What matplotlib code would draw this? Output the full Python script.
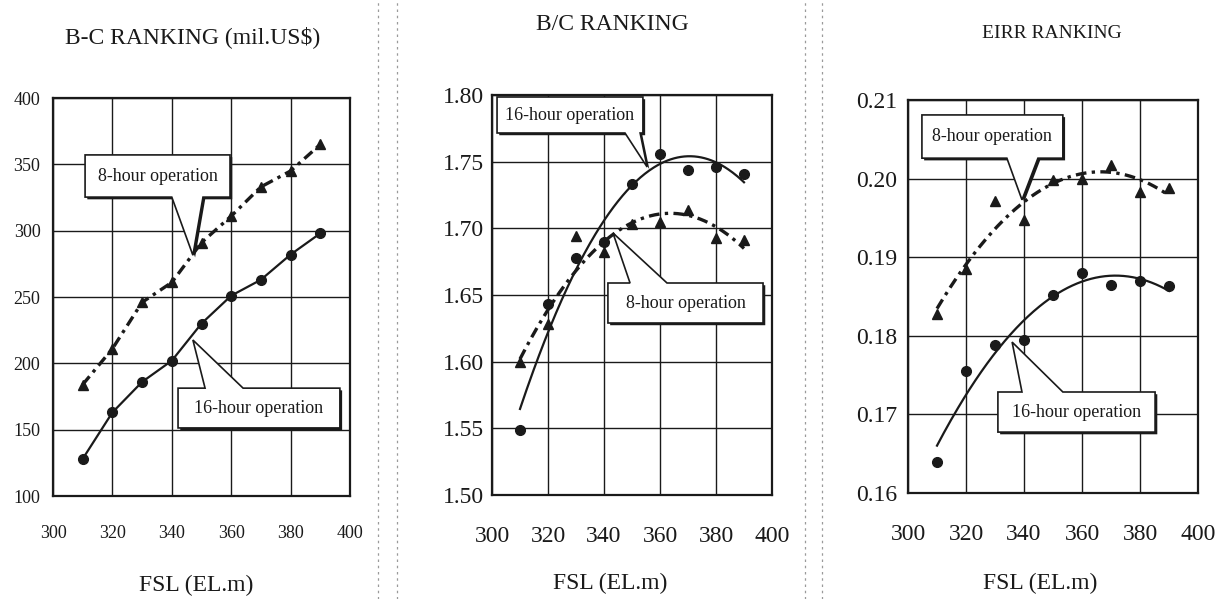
import numpy as np
import matplotlib
matplotlib.use("Agg")
import matplotlib.pyplot as plt
from matplotlib.patches import Polygon
from matplotlib.lines import Line2D
import matplotlib.patheffects as pe

plt.rcParams["font.family"] = ["Liberation Serif", "DejaVu Serif"]

# Full supply level (EL.m)
fsl = [310, 320, 330, 340, 350, 360, 370, 380, 390]

# B-C (mil.US$)
bc_16h = [128, 163, 186, 202, 230, 251, 263, 282, 298]
bc_8h = [184, 211, 246, 261, 291, 311, 333, 345, 365]

# B/C ratio
bcr_16h = [1.549, 1.643, 1.678, 1.690, 1.733, 1.756, 1.744, 1.746, 1.741]
bcr_8h = [1.600, 1.628, 1.694, 1.682, 1.703, 1.705, 1.714, 1.693, 1.691]

# EIRR
eirr_16h = [0.1640, 0.1755, 0.1788, 0.1795, 0.1852, 0.1880, 0.1865, 0.1870, 0.1863]
eirr_8h = [0.1828, 0.1885, 0.1971, 0.1947, 0.1998, 0.2000, 0.2017, 0.1983, 0.1988]

x_ticks = [300, 320, 340, 360, 380, 400]
bc_ticks = [100, 150, 200, 250, 300, 350, 400]
bcr_ticks = [1.50, 1.55, 1.60, 1.65, 1.70, 1.75, 1.80]
eirr_ticks = [0.16, 0.17, 0.18, 0.19, 0.20, 0.21]

titles = ["B-C RANKING (mil.US$)", "B/C RANKING", "EIRR RANKING"]
xlabel = "FSL (EL.m)"
lbl_8h = "8-hour operation"
lbl_16h = "16-hour operation"

W, H = 1226, 599
INK = "#1a1a1a"
DASH = (0, (3.2, 1.6, 1.0, 1.6))

fig = plt.figure(figsize=(W / 100, H / 100), dpi=100)
fig.patch.set_facecolor("white")


def px_axes(l, r, t, b):
    return fig.add_axes([l / W, 1 - b / H, (r - l) / W, (b - t) / H])


def style(ax, yticks, fmt, ysize, xsize, xpad, ypad):
    ax.set_xlim(300, 400)
    ax.set_ylim(yticks[0], yticks[-1])
    ax.set_xticks(x_ticks)
    ax.set_yticks(yticks)
    ax.set_yticklabels([fmt.format(v) for v in yticks])
    ax.grid(True, color=INK, lw=1.0)
    ax.set_axisbelow(True)
    for s in ax.spines.values():
        s.set_linewidth(1.6)
        s.set_color(INK)
    ax.tick_params(axis="both", length=0, colors=INK)
    ax.tick_params(axis="x", labelsize=xsize, pad=xpad)
    ax.tick_params(axis="y", labelsize=ysize, pad=ypad)


def callout(ax, text, box, base, tip, fs=13):
    """Speech-bubble label: box in axes fraction (x0, y0, x1, y1),
    pointer base on the box edge facing the tip, tip in data coords."""
    x0, y0, x1, y1 = box
    tx, ty = ax.transAxes.inverted().transform(ax.transData.transform(tip))
    b0, b1 = base
    if ty < y0:
        verts = [(x0, y1), (x1, y1), (x1, y0), (b1, y0), (tx, ty), (b0, y0), (x0, y0)]
    else:
        verts = [(x0, y1), (x0, y0), (x1, y0), (x1, y1), (b1, y1), (tx, ty), (b0, y1)]
    poly = Polygon(verts, closed=True, transform=ax.transAxes, facecolor="white",
                   edgecolor=INK, lw=1.2, zorder=5, clip_on=False,
                   path_effects=[pe.SimplePatchShadow(offset=(1.6, -1.6),
                                                      shadow_rgbFace=INK, alpha=1.0),
                                 pe.Normal()])
    ax.add_patch(poly)
    ax.text((x0 + x1) / 2, (y0 + y1) / 2, text, transform=ax.transAxes,
            ha="center", va="center", fontsize=fs, color=INK, zorder=6)


def smooth(x, y, deg=2):
    coef = np.polyfit(x, y, deg)
    xs = np.linspace(min(x), max(x), 200)
    return xs, np.polyval(coef, xs)


mk = dict(color=INK, markersize=7, linestyle="none", zorder=4)

# Panel 1: B-C
ax1 = px_axes(53, 350, 98, 496)
style(ax1, bc_ticks, "{:d}", 13, 13, 21, 9)
ax1.plot(fsl, bc_16h, color=INK, lw=1.6, zorder=3)
ax1.plot(fsl, bc_8h, color=INK, lw=2.4, linestyle=DASH, zorder=3)
ax1.plot(fsl, bc_16h, marker="o", **mk)
ax1.plot(fsl, bc_8h, marker="^", **mk)
callout(ax1, lbl_8h, (0.108, 0.751, 0.596, 0.857), (0.40, 0.505), (347.1, 281.5))
callout(ax1, lbl_16h, (0.421, 0.171, 0.966, 0.271), (0.512, 0.640), (347.1, 217.6))

# Panel 2: B/C
ax2 = px_axes(492, 772, 95, 495)
style(ax2, bcr_ticks, "{:.2f}", 17, 17, 22, 6)
xs, ys = smooth(fsl, bcr_16h, 2)
ax2.plot(xs, ys, color=INK, lw=1.6, zorder=3)
xs, ys = smooth(fsl, bcr_8h, 2)
ax2.plot(xs, ys, color=INK, lw=2.4, linestyle=DASH, zorder=3)
ax2.plot(fsl, bcr_16h, marker="o", **mk)
ax2.plot(fsl, bcr_8h, marker="^", **mk)
callout(ax2, lbl_16h, (0.018, 0.905, 0.539, 0.995), (0.475, 0.529), (355.4, 1.746))
callout(ax2, lbl_8h, (0.414, 0.430, 0.968, 0.530), (0.493, 0.625), (343.2, 1.6965))

# Panel 3: EIRR
ax3 = px_axes(908, 1198, 100, 493)
style(ax3, eirr_ticks, "{:.2f}", 17, 17, 22, 8)
xs, ys = smooth(fsl, eirr_16h, 2)
ax3.plot(xs, ys, color=INK, lw=1.6, zorder=3)
xs, ys = smooth(fsl, eirr_8h, 2)
ax3.plot(xs, ys, color=INK, lw=2.4, linestyle=DASH, zorder=3)
ax3.plot(fsl, eirr_16h, marker="o", **mk)
ax3.plot(fsl, eirr_8h, marker="^", **mk)
callout(ax3, lbl_8h, (0.048, 0.852, 0.534, 0.962), (0.341, 0.448), (339.3, 0.1973))
callout(ax3, lbl_16h, (0.310, 0.155, 0.852, 0.257), (0.393, 0.534), (335.9, 0.1792))

# Titles and axis captions
for (cx, cy, fs), t in zip([(193, 37, 17), (612, 25, 17), (1052, 33, 14)], titles):
    fig.text(cx / W, 1 - cy / H, t, ha="center", va="center", fontsize=fs, color=INK)
for cx, cy in [(196, 585), (610, 583), (1040, 583)]:
    fig.text(cx / W, 1 - cy / H, xlabel, ha="center", va="center", fontsize=17, color=INK)

# Dotted panel separators
for sx in [378, 397, 805, 822]:
    fig.add_artist(Line2D([sx / W, sx / W], [0, 1], transform=fig.transFigure,
                          color="#9a9a9a", lw=0.9, linestyle=(0, (2, 3))))

fig.savefig("out.png", dpi=100, facecolor="white")
